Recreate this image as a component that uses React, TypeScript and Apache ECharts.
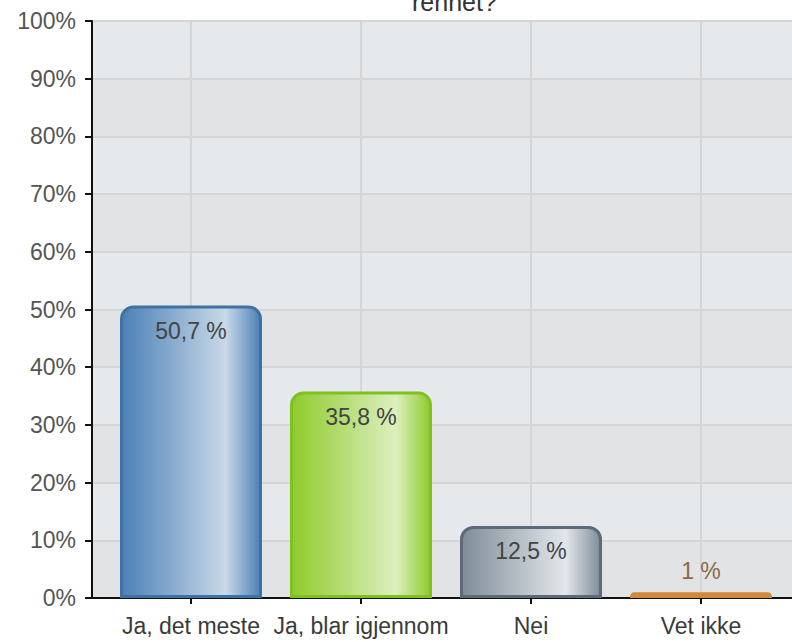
import React, { useEffect, useRef } from "react";
import * as echarts from "echarts";

const categories = ["Ja, det meste", "Ja, blar igjennom", "Nei", "Vet ikke"];
const values = [50.7, 35.8, 12.5, 1];
const yTicks = [0, 10, 20, 30, 40, 50, 60, 70, 80, 90, 100];
const titleText = "rennet?";

const palette = [
  { border: "#3f71a2", dark: "#4b80b6", light: "#c9d9e8" },
  { border: "#7fc11f", dark: "#8fcb2b", light: "#dcefbf" },
  { border: "#5d6b78", dark: "#7f8c98", light: "#e3e7eb" },
  { border: "#d08a3c", dark: "#e39a4c", light: "#f4c48e" },
];

export default function App() {
  const ref = useRef<HTMLDivElement>(null);
  useEffect(() => {
    if (!ref.current) return;
    const chart = echarts.init(ref.current, undefined, { renderer: "svg" });
    const left = 92;
    const width = 700;
    const band = 170;
    const firstCenter = 191;
    const xMin = -(firstCenter - left) / band;
    const xMax = xMin + width / band;
    const idx = categories.map((_, i) => i);
    const fontFamily = "Liberation Sans, Arial, sans-serif";
    chart.setOption({
      animation: false,
      title: {
        text: titleText,
        left: 407,
        top: -16,
        textStyle: { fontFamily, fontSize: 25, fontWeight: "normal", color: "#333" },
      },
      grid: {
        left,
        top: 21,
        width,
        bottom: 44,
        show: true,
        backgroundColor: "#e4e6e9",
        borderColor: "#8a8a8a",
        borderWidth: 2,
      },
      xAxis: {
        type: "value",
        min: xMin,
        max: xMax,
        axisLine: { show: true, onZero: false, lineStyle: { color: "#111", width: 2 } },
        axisTick: { show: true, customValues: idx, length: 6, lineStyle: { color: "#111", width: 2 } },
        axisLabel: {
          customValues: idx,
          formatter: (v: number) => categories[Math.round(v)] ?? "",
          fontFamily,
          fontSize: 23,
          color: "#3a3a3a",
          margin: 16,
        },
        splitLine: { show: true, lineStyle: { color: "#d5d5d5", width: 2 } },
      },
      yAxis: {
        type: "value",
        min: 0,
        max: 100,
        interval: 10,
        axisLine: { show: true, onZero: false, lineStyle: { color: "#111", width: 2 } },
        axisTick: { show: true, length: 7, lineStyle: { color: "#111", width: 2 } },
        axisLabel: {
          formatter: (v: number) => (yTicks.includes(v) ? v + "%" : ""),
          fontFamily,
          fontSize: 23,
          color: "#555",
          margin: 16,
        },
        splitLine: { show: true, lineStyle: { color: "#d5d5d5", width: 2 } },
        splitArea: { show: true, areaStyle: { color: ["#e2e3e5", "#e6e9ec"] } },
      },
      series: [
        {
          type: "bar",
          barWidth: 142,
          data: values.map((v, i) => {
            const p = palette[i];
            const small = v < 5;
            return {
              value: [i, v],
              itemStyle: {
                borderColor: p.border,
                borderWidth: 3,
                borderRadius: small ? [4, 4, 0, 0] : [12, 12, 0, 0],
                color: new echarts.graphic.LinearGradient(0, 0, 1, 0, [
                  { offset: 0, color: p.dark },
                  { offset: 0.75, color: p.light },
                  { offset: 1, color: p.dark },
                ]),
              },
              label: small
                ? { position: "top", distance: 10, color: "#8a6a4a" }
                : { position: "insideTop", distance: 14, color: "#444" },
            };
          }),
          label: {
            show: true,
            fontFamily,
            fontSize: 23,
            formatter: (p: any) => String(p.value[1]).replace(".", ",") + " %",
          },
        },
      ],
    });
    return () => chart.dispose();
  }, []);
  return (
    <div
      ref={ref}
      style={{ position: "fixed", left: 0, top: 0, width: 792, height: 642, background: "#fff" }}
    />
  );
}
